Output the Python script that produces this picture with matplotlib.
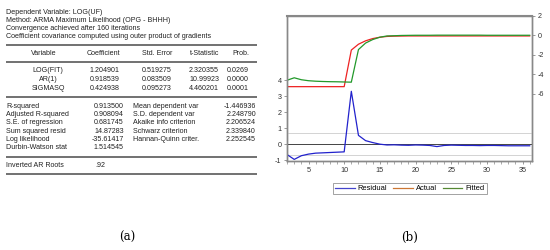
import matplotlib.pyplot as plt
from matplotlib.lines import Line2D

plt.rcParams['font.family'] = ['Liberation Sans', 'DejaVu Sans']
plt.rcParams['axes.unicode_minus'] = False

# regression output table
header_lines = [
    'Dependent Variable: LOG(UF)',
    'Method: ARMA Maximum Likelihood (OPG - BHHH)',
    'Convergence achieved after 160 iterations',
    'Coefficient covariance computed using outer product of gradients',
]
col_names = ['Variable', 'Coefficient', 'Std. Error', 't-Statistic', 'Prob.']
var_names = ['LOG(FIT)', 'AR(1)', 'SIGMASQ']
coefs = ['1.204901', '0.918539', '0.424938']
std_errs = ['0.519275', '0.083509', '0.095273']
t_stats = ['2.320355', '10.99923', '4.460201']
probs = ['0.0269', '0.0000', '0.0001']
stat_left_names = ['R-squared', 'Adjusted R-squared', 'S.E. of regression',
                   'Sum squared resid', 'Log likelihood', 'Durbin-Watson stat']
stat_left_vals = ['0.913500', '0.908094', '0.681745', '14.87283', '-35.61417', '1.514545']
stat_right_names = ['Mean dependent var', 'S.D. dependent var', 'Akaike info criterion',
                    'Schwarz criterion', 'Hannan-Quinn criter.']
stat_right_vals = ['-1.446936', '2.248790', '2.206524', '2.339840', '2.252545']
ar_roots = '.92'

# residual / actual / fitted series
obs = list(range(2, 37))
residual = [-0.65, -0.95, -0.72, -0.62, -0.56, -0.54, -0.52, -0.50, -0.48, 3.30,
            0.55, 0.22, 0.10, 0.00, -0.05, -0.04, -0.06, -0.07, -0.05, -0.06,
            -0.08, -0.15, -0.08, -0.06, -0.07, -0.08, -0.08, -0.09, -0.08, -0.08,
            -0.09, -0.10, -0.10, -0.10, -0.10]
actual = [-5.26, -5.26, -5.26, -5.26, -5.26, -5.26, -5.26, -5.26, -5.26, -1.50,
          -0.90, -0.55, -0.32, -0.18, -0.10, -0.07, -0.06, -0.05, -0.05, -0.05,
          -0.05, -0.05, -0.05, -0.05, -0.05, -0.05, -0.05, -0.05, -0.05, -0.05,
          -0.05, -0.05, -0.05, -0.05, -0.05]
fitted = [-4.60, -4.35, -4.55, -4.65, -4.70, -4.73, -4.75, -4.76, -4.78, -4.80,
          -1.45, -0.78, -0.42, -0.18, -0.05, -0.03, 0.00, 0.01, 0.02, 0.02,
          0.02, 0.03, 0.03, 0.03, 0.03, 0.03, 0.03, 0.03, 0.02, 0.02,
          0.02, 0.02, 0.02, 0.02, 0.02]
se_reg = 0.681745

fig = plt.figure(figsize=(5.5, 2.5), dpi=100)

# --- panel (a): table drawn in pixel coordinates ---
tab = fig.add_axes([0, 0, 1, 1])
tab.set_xlim(0, 550)
tab.set_ylim(250, 0)
tab.axis('off')
fs = 5.15
tc = '#222222'
for i, s in enumerate(header_lines):
    tab.text(6, 12.3 + i * 8, s, fontsize=fs, color=tc, va='center')

def rule(y):
    tab.plot([6, 257], [y, y], color='#666666', lw=1.3, solid_capstyle='butt')

rule(44.5)
col_x = [46, 120, 172, 219, 249]
tab.text(col_x[0] - 2, 53.3, col_names[0], fontsize=fs, color=tc, va='center', ha='center')
for x, s in zip(col_x[1:], col_names[1:]):
    tab.text(x, 53.3, s, fontsize=fs, color=tc, va='center', ha='right')
rule(61.7)
for i in range(len(var_names)):
    y = 70.7 + i * 8.8
    tab.text(col_x[0] + 2, y, var_names[i], fontsize=fs, color=tc, va='center', ha='center')
    for x, s in zip(col_x[1:], [coefs[i], std_errs[i], t_stats[i], probs[i]]):
        tab.text(x, y, s, fontsize=fs, color=tc, va='center', ha='right')
rule(97.3)
for i in range(len(stat_left_names)):
    y = 106 + i * 8.35
    tab.text(6, y, stat_left_names[i], fontsize=fs, color=tc, va='center')
    tab.text(124, y, stat_left_vals[i], fontsize=fs, color=tc, va='center', ha='right')
    if i < len(stat_right_names):
        tab.text(133, y, stat_right_names[i], fontsize=fs, color=tc, va='center')
        tab.text(256, y, stat_right_vals[i], fontsize=fs, color=tc, va='center', ha='right')
rule(156.7)
tab.text(6, 165.7, 'Inverted AR Roots', fontsize=fs, color=tc, va='center')
tab.text(95, 165.7, ar_roots, fontsize=fs, color=tc, va='center')
rule(174)

tab.text(127, 237, '(a)', fontsize=8.5, family='DejaVu Serif', ha='center', va='center')
tab.text(410, 237, '(b)', fontsize=8.5, family='DejaVu Serif', ha='center', va='center')

# --- panel (b): residual plot ---
ax = fig.add_axes([0.522, 0.356, 0.445, 0.58])
ax2 = ax.twinx()
ax2.set_zorder(ax.get_zorder() - 1)
ax.set_zorder(ax2.get_zorder() + 1)
ax.patch.set_visible(False)

ax.axhline(0, color='#444444', lw=0.7)
ax.axhline(se_reg, color='#cccccc', lw=0.6)
ax.axhline(-se_reg, color='#cccccc', lw=0.6)
ax.plot(obs, residual, color='#2222cc', lw=0.9)
ax2.plot(obs, actual, color='#ee2222', lw=0.9)
ax2.plot(obs, fitted, color='#22992a', lw=0.9)

ax.set_xlim(2, 36.3)
ax.set_ylim(-1.05, 8.0)
ax2.set_ylim(-12.9, 2.0)
ax.set_yticks([-1, 0, 1, 2, 3, 4])
ax2.set_yticks([-6, -4, -2, 0, 2])
ax.set_xticks([5, 10, 15, 20, 25, 30, 35])
ax.set_xticks(range(2, 37), minor=True)
for a in (ax, ax2):
    for sp in a.spines.values():
        sp.set_color('#888888')
        sp.set_linewidth(1.0)
    a.tick_params(labelsize=5.2, colors='#888888', labelcolor='#333333',
                  length=2.5, width=0.6, pad=1.5)
ax.tick_params(axis='x', which='minor', length=1.8, width=0.5, colors='#888888')
ax.spines['top'].set_linewidth(1.5)

handles = [Line2D([], [], color='#4444cc', lw=0.9),
           Line2D([], [], color='#cc7733', lw=0.9),
           Line2D([], [], color='#558833', lw=0.9)]
leg = fig.legend(handles, ['Residual', 'Actual', 'Fitted'], loc='center',
                 bbox_to_anchor=(0.745, 0.246), ncol=3, fontsize=5.4,
                 frameon=True, fancybox=False, edgecolor='#777777',
                 handlelength=2.6, columnspacing=0.8, handletextpad=0.4,
                 borderpad=0.3, borderaxespad=0)
leg.get_frame().set_linewidth(0.6)

fig.savefig('out.png', dpi=100)
